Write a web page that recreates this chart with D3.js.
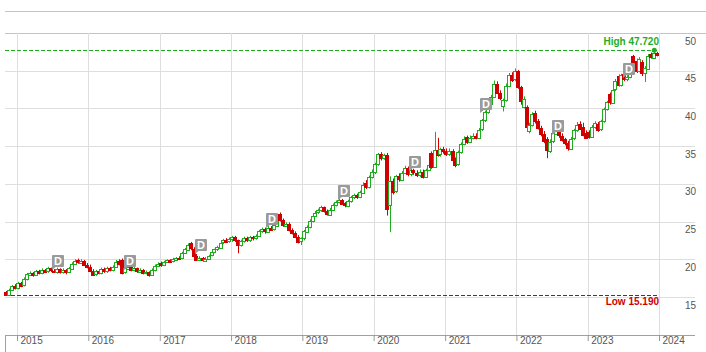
<!DOCTYPE html>
<html>
<head>
<meta charset="utf-8">
<style>
  body { margin: 0; background: #fff; }
  svg { display: block; font-family: "Liberation Sans", Arial, sans-serif; }
</style>
</head>
<body>
<div id="chart"></div>
<script src="https://cdnjs.cloudflare.com/ajax/libs/d3/7.8.5/d3.min.js"></script>
<script>
// half-month candles, Nov 2014 .. Dec 2023 (2 per month)
var opens = [
  15.7, 15.3, 15.9, 16.4,
  16.2, 16.9, 16.6, 17.4, 18.0, 18.2, 17.9, 18.5, 18.2, 18.6, 18.4, 18.8, 18.5, 18.3, 18.7, 18.3, 18.6, 18.3, 18.8, 19.4, 19.9, 19.6, 19.8, 19.3,
  19.0, 18.5, 18.0, 18.4, 18.2, 18.7, 18.4, 18.8, 18.6, 19.0, 19.8, 19.9, 18.3, 18.8, 19.0, 18.6, 18.8, 18.4, 18.6, 18.2, 18.3, 17.9, 18.6, 19.1,
  19.5, 19.2, 19.6, 19.9, 19.7, 20.0, 20.2, 20.1, 20.8, 21.3, 22.1, 21.4, 20.5, 20.0, 20.2, 19.9, 20.1, 20.5, 20.9, 21.3, 21.6, 22.2, 22.6, 22.4,
  22.7, 22.9, 22.5, 21.9, 22.4, 22.8, 22.5, 22.9, 22.8, 23.1, 23.7, 24.0, 23.7, 24.2, 24.0, 24.5, 26.0, 25.2, 24.5, 24.7, 23.9, 23.5, 23.0, 22.4,
  22.8, 23.7, 24.3, 25.1, 25.8, 26.2, 26.5, 26.9, 26.4, 26.0, 26.6, 27.2, 27.6, 27.9, 27.4, 27.1, 27.7, 28.2, 28.5, 28.3, 28.9, 30.1, 29.6, 30.9,
  31.6, 32.6, 33.9, 33.4, 33.8, 27.2, 30.4, 29.0, 31.0, 30.6, 31.5, 32.1, 31.3, 31.8, 31.5, 31.2, 31.6, 31.0, 31.9, 34.1, 32.3, 34.5, 33.9, 34.6,
  34.4, 34.0, 34.4, 33.2, 32.6, 34.2, 35.3, 36.2, 35.6, 36.1, 36.4, 36.2, 37.2, 38.4, 39.5, 40.6, 41.6, 43.3, 42.1, 40.3, 41.1, 43.0, 44.4, 43.8,
  44.9, 42.8, 40.3, 40.2, 37.0, 37.8, 39.4, 38.3, 37.4, 36.6, 35.9, 34.4, 35.6, 36.7, 37.5, 36.4, 35.9, 35.4, 34.7, 36.0, 37.1, 38.0, 37.6, 36.8,
  36.9, 36.3, 37.6, 38.0, 37.2, 38.3, 39.9, 41.9, 40.8, 42.5, 44.3, 43.1, 44.6, 43.9, 44.2, 46.9, 46.3, 45.0, 46.1, 44.6, 45.3, 47.2, 46.8, 47.4
];
var highs = [
  15.8, 16.1, 16.6, 16.7,
  17.0, 17.0, 17.6, 18.2, 18.4, 18.3, 18.6, 18.6, 18.8, 18.7, 19.0, 18.9, 18.7, 18.9, 18.8, 18.8, 18.7, 19.0, 19.6, 20.0, 20.1, 20.0, 19.9, 19.5,
  19.3, 18.7, 18.6, 18.6, 18.9, 18.9, 19.0, 19.0, 19.2, 19.9, 20.0, 20.1, 18.9, 19.2, 19.2, 19.0, 18.9, 18.8, 18.7, 18.5, 18.4, 18.8, 19.3, 19.6,
  19.7, 19.8, 20.0, 20.0, 20.2, 20.3, 20.4, 21.0, 21.5, 22.1, 22.3, 21.6, 20.7, 20.4, 20.3, 20.3, 20.6, 21.0, 21.4, 21.8, 22.3, 22.7, 22.8, 22.9,
  23.1, 23.1, 22.6, 22.6, 23.0, 23.0, 23.1, 23.1, 23.3, 23.9, 24.2, 24.2, 24.4, 24.4, 24.7, 26.0, 26.2, 25.4, 24.9, 24.9, 24.1, 23.7, 23.2, 22.9,
  23.9, 24.5, 25.3, 26.0, 26.4, 26.7, 27.1, 27.0, 26.6, 26.8, 27.4, 27.8, 28.1, 28.0, 27.6, 27.9, 28.4, 28.7, 28.7, 29.1, 30.2, 30.5, 31.1, 31.9,
  32.8, 34.1, 34.2, 34.0, 34.1, 31.0, 30.7, 31.2, 31.4, 31.7, 32.4, 32.3, 32.0, 32.0, 31.8, 31.9, 31.9, 32.0, 32.7, 34.3, 36.9, 36.1, 34.8, 34.9,
  34.7, 34.7, 34.6, 33.5, 34.4, 35.5, 36.3, 36.4, 36.4, 36.7, 36.7, 37.4, 38.6, 39.7, 40.8, 41.8, 43.7, 43.6, 42.4, 41.3, 43.3, 44.7, 44.8, 45.3,
  45.1, 43.0, 41.6, 40.4, 38.1, 39.5, 39.7, 38.6, 37.7, 37.0, 36.2, 35.9, 36.9, 37.8, 37.8, 36.7, 36.1, 35.7, 36.2, 37.3, 38.2, 38.3, 38.1, 37.1,
  37.1, 37.8, 38.3, 38.2, 38.5, 40.1, 41.0, 42.1, 42.7, 43.9, 44.5, 44.6, 44.8, 44.4, 45.6, 47.1, 46.6, 46.8, 46.4, 45.6, 47.2, 47.4, 47.72, 47.5
];
var lows = [
  15.19, 15.2, 15.8, 16.0,
  16.0, 16.3, 16.4, 17.2, 17.8, 17.7, 17.8, 18.0, 18.0, 18.2, 18.2, 18.3, 18.2, 18.1, 18.1, 18.1, 18.0, 18.2, 18.7, 19.3, 19.4, 19.4, 19.1, 18.8,
  18.3, 17.8, 17.8, 18.0, 18.0, 18.2, 18.2, 18.4, 18.4, 18.9, 19.2, 18.0, 18.1, 18.6, 18.4, 18.4, 18.2, 18.2, 18.0, 18.0, 17.7, 17.8, 18.4, 19.0,
  19.0, 19.1, 19.5, 19.5, 19.6, 19.9, 19.9, 20.0, 20.7, 21.2, 21.2, 20.3, 19.8, 19.8, 19.7, 19.7, 20.0, 20.4, 20.8, 21.1, 21.5, 22.0, 22.2, 22.2,
  22.3, 22.3, 20.8, 21.7, 22.2, 22.3, 22.3, 22.5, 22.6, 23.0, 23.5, 23.4, 23.5, 23.8, 23.8, 24.4, 25.0, 24.3, 24.3, 23.7, 23.3, 22.8, 22.1, 21.9,
  22.5, 23.5, 24.1, 24.9, 25.6, 26.0, 26.3, 26.2, 25.8, 25.8, 26.4, 27.0, 27.4, 27.2, 26.9, 26.9, 27.5, 28.0, 28.0, 28.1, 28.7, 29.3, 29.4, 30.7,
  31.3, 32.4, 33.1, 33.2, 25.8, 23.6, 28.6, 28.8, 30.3, 30.4, 31.3, 31.0, 31.0, 31.2, 30.9, 30.9, 30.7, 30.8, 31.7, 32.0, 32.1, 33.6, 33.6, 34.0,
  33.7, 33.7, 32.9, 32.2, 32.4, 34.0, 35.1, 35.3, 35.4, 35.9, 35.9, 36.0, 37.0, 38.2, 39.3, 40.4, 41.4, 41.9, 41.1, 39.6, 40.9, 42.8, 43.5, 43.6,
  42.6, 40.5, 40.0, 37.3, 36.7, 37.6, 38.0, 37.2, 36.3, 35.4, 33.4, 34.1, 35.4, 36.5, 36.1, 35.6, 35.1, 34.4, 34.5, 35.8, 36.9, 37.2, 36.3, 36.0,
  36.0, 36.1, 37.3, 36.9, 37.0, 38.1, 39.7, 40.5, 40.6, 42.3, 42.9, 42.9, 43.6, 43.6, 44.0, 45.7, 44.7, 44.8, 44.3, 43.5, 45.1, 46.6, 46.7, 46.9
];
var closes = [
  15.3, 15.9, 16.4, 16.2,
  16.8, 16.5, 17.4, 18.0, 18.2, 17.9, 18.4, 18.2, 18.6, 18.4, 18.8, 18.5, 18.4, 18.7, 18.3, 18.6, 18.3, 18.8, 19.4, 19.8, 19.6, 19.8, 19.3, 19.0,
  18.5, 18.0, 18.4, 18.2, 18.7, 18.4, 18.8, 18.6, 19.0, 19.7, 19.4, 18.2, 18.8, 19.0, 18.6, 18.8, 18.4, 18.6, 18.2, 18.3, 17.9, 18.6, 19.1, 19.4,
  19.2, 19.6, 19.9, 19.7, 20.0, 20.2, 20.1, 20.8, 21.3, 21.9, 21.4, 20.5, 20.0, 20.2, 19.9, 20.1, 20.5, 20.9, 21.3, 21.6, 22.2, 22.5, 22.4, 22.7,
  22.9, 22.5, 21.9, 22.4, 22.8, 22.5, 22.9, 22.8, 23.1, 23.7, 24.0, 23.7, 24.2, 24.0, 24.5, 25.9, 25.2, 24.5, 24.7, 23.9, 23.5, 23.0, 22.4, 22.8,
  23.7, 24.3, 25.1, 25.8, 26.2, 26.5, 26.9, 26.4, 26.0, 26.6, 27.2, 27.6, 27.9, 27.4, 27.1, 27.7, 28.2, 28.5, 28.3, 28.9, 29.9, 29.6, 30.9, 31.6,
  32.6, 33.9, 33.4, 33.8, 26.6, 30.4, 29.0, 31.0, 30.6, 31.5, 32.1, 31.3, 31.8, 31.5, 31.2, 31.6, 31.0, 31.9, 32.5, 32.3, 34.5, 33.9, 34.6, 34.4,
  34.0, 34.4, 33.2, 32.6, 34.2, 35.3, 36.0, 35.6, 36.1, 36.4, 36.2, 37.2, 38.4, 39.5, 40.6, 41.5, 43.3, 42.1, 41.4, 41.1, 43.0, 44.4, 43.8, 44.9,
  42.8, 41.0, 41.3, 37.6, 37.8, 39.3, 38.3, 37.4, 36.6, 35.7, 34.4, 35.6, 36.7, 37.6, 36.4, 35.9, 35.4, 34.7, 36.0, 37.1, 37.8, 37.4, 36.5, 36.2,
  36.3, 37.6, 38.1, 37.2, 38.3, 39.9, 40.8, 40.8, 42.5, 43.6, 43.1, 44.4, 43.9, 44.2, 45.4, 46.0, 45.0, 46.6, 44.6, 45.3, 47.0, 46.8, 47.4, 47.1
];
var yTicks = [15, 20, 25, 30, 35, 40, 45, 50];
var years = [2015, 2016, 2017, 2018, 2019, 2020, 2021, 2022, 2023, 2024];
// dividend markers (ex-date, price the marker points at)
var divDates = ["2015-07-01", "2016-07-01", "2017-07-01", "2018-07-01", "2019-07-01", "2020-07-01", "2021-07-01", "2022-07-01", "2023-07-01"];
var divLevels = [18.6, 18.6, 20.7, 24.15, 27.85, 31.7, 39.4, 36.5, 44.05];
var hiVal = 47.72, loVal = 15.19;

var green = "#1fad1f", red = "#d00000";

var dates = [];
d3.timeMonth.range(new Date(2014, 10, 1), new Date(2024, 0, 1)).forEach(function(m) {
  dates.push(new Date(m.getFullYear(), m.getMonth(), 8));
  dates.push(new Date(m.getFullYear(), m.getMonth(), 23));
});
var n = Math.min(dates.length, opens.length, highs.length, lows.length, closes.length);
var data = [];
for (var i = 0; i < n; i++) {
  data.push({d: dates[i], o: opens[i], h: highs[i], l: lows[i], c: closes[i]});
}

var svg = d3.select("#chart").append("svg")
  .attr("width", 706)
  .attr("height", 352);

var x = d3.scaleTime().domain([new Date(2015, 0, 1), new Date(2024, 0, 1)]).range([17, 659]);
var y = d3.scaleLinear().domain([15, 50]).range([297, 33]);
function px(v) { return Math.round(v) + 0.5; }

// frame line on top
svg.append("line")
  .attr("x1", 5).attr("x2", 706).attr("y1", 11.5).attr("y2", 11.5)
  .attr("stroke", "#c4c4c4");

// horizontal grid
svg.append("g").selectAll("line")
  .data(yTicks).join("line")
  .attr("x1", 5)
  .attr("x2", function(d) { return d === 50 ? 706 : 695; })
  .attr("y1", function(d) { return px(y(d)); })
  .attr("y2", function(d) { return px(y(d)); })
  .attr("stroke", function(d) { return d === 50 ? "#c4c4c4" : "#dedede"; });

// vertical grid
svg.append("g").selectAll("line")
  .data(years).join("line")
  .attr("x1", function(d) { return px(x(new Date(d, 0, 1))); })
  .attr("x2", function(d) { return px(x(new Date(d, 0, 1))); })
  .attr("y1", 33).attr("y2", 335)
  .attr("stroke", "#dedede");

// y axis labels on the right
var yAxis = svg.append("g")
  .attr("transform", "translate(696,0)")
  .call(d3.axisRight(y).tickValues(yTicks).tickSize(0).tickPadding(0));
yAxis.select(".domain").remove();
yAxis.selectAll("text")
  .attr("text-anchor", "end")
  .attr("x", 0).attr("dy", null).attr("y", 11)
  .attr("fill", "#555")
  .style("font-size", "10px")
  .style("font-family", "'Liberation Sans', Arial, sans-serif");

// x axis
svg.append("line")
  .attr("x1", 5).attr("x2", 695).attr("y1", 335.5).attr("y2", 335.5)
  .attr("stroke", "#a0a0a0");
svg.append("line")
  .attr("x1", 5.5).attr("x2", 5.5).attr("y1", 335).attr("y2", 352)
  .attr("stroke", "#a0a0a0");
var xAxis = svg.append("g")
  .attr("transform", "translate(0,335)")
  .call(d3.axisBottom(x)
    .tickValues(years.map(function(yr) { return new Date(yr, 0, 1); }))
    .tickSize(6)
    .tickFormat(d3.timeFormat("%Y")));
xAxis.select(".domain").remove();
xAxis.selectAll(".tick line").attr("stroke", "#999");
xAxis.selectAll("text")
  .attr("text-anchor", "start")
  .attr("x", 3).attr("y", 2)
  .attr("fill", "#555")
  .style("font-size", "10px")
  .style("font-family", "'Liberation Sans', Arial, sans-serif");

// high / low reference lines
var hiY = Math.floor(y(hiVal)) + 0.5, loY = Math.floor(y(loVal)) + 0.5;
svg.append("line")
  .attr("x1", 5).attr("x2", 659).attr("y1", hiY).attr("y2", hiY)
  .attr("stroke", green).attr("stroke-dasharray", "4,2");
svg.append("line")
  .attr("x1", 5).attr("x2", 659).attr("y1", loY).attr("y2", loY)
  .attr("stroke", red).attr("stroke-dasharray", "4,2");
svg.append("text")
  .attr("x", 659).attr("y", 45).attr("text-anchor", "end")
  .attr("fill", green).attr("font-weight", "bold").attr("font-size", 10)
  .text("High " + d3.format(".3f")(hiVal));
svg.append("text")
  .attr("x", 659).attr("y", 305).attr("text-anchor", "end")
  .attr("fill", red).attr("font-weight", "bold").attr("font-size", 10)
  .text("Low " + d3.format(".3f")(loVal));

// candles
var candles = svg.append("g").selectAll("g")
  .data(data).join("g");
candles.append("line")
  .attr("x1", function(d) { return Math.round(x(d.d)) + 0.5; })
  .attr("x2", function(d) { return Math.round(x(d.d)) + 0.5; })
  .attr("y1", function(d) { return y(d.h); })
  .attr("y2", function(d) { return y(d.l); })
  .attr("stroke", function(d) { return d.c >= d.o ? green : red; });
candles.append("rect")
  .attr("x", function(d) { return Math.round(x(d.d)) - 1.5; })
  .attr("y", function(d) { return Math.round(y(Math.max(d.o, d.c))) + 0.5; })
  .attr("width", 3)
  .attr("height", function(d) { return Math.max(1, Math.round(Math.abs(y(d.o) - y(d.c)))); })
  .attr("fill", function(d) { return d.c >= d.o ? "#fff" : red; })
  .attr("stroke", function(d) { return d.c >= d.o ? green : red; });

// dot on the high
var hiIdx = d3.maxIndex(data, function(d) { return d.h; });
svg.append("circle")
  .attr("cx", x(data[hiIdx].d)).attr("cy", y(hiVal)).attr("r", 2.5)
  .attr("fill", green);

// dividend markers
var parse = d3.timeParse("%Y-%m-%d");
var divs = svg.append("g").selectAll("g")
  .data(divDates.map(function(s, i) { return {d: parse(s), v: divLevels[i]}; }))
  .join("g")
  .attr("transform", function(d) {
    return "translate(" + Math.round(x(d.d)) + "," + (Math.round(y(d.v)) - 15) + ")";
  });
divs.append("path")
  .attr("d", "M0,11 L5,11 L0,15 Z")
  .attr("fill", "#9a9a9a");
divs.append("rect")
  .attr("width", 12).attr("height", 12).attr("rx", 1)
  .attr("fill", "#9a9a9a");
divs.append("text")
  .attr("x", 6).attr("y", 10)
  .attr("text-anchor", "middle")
  .attr("fill", "#fff").attr("font-size", 11).attr("font-weight", "bold")
  .text("D");
</script>
</body>
</html>
